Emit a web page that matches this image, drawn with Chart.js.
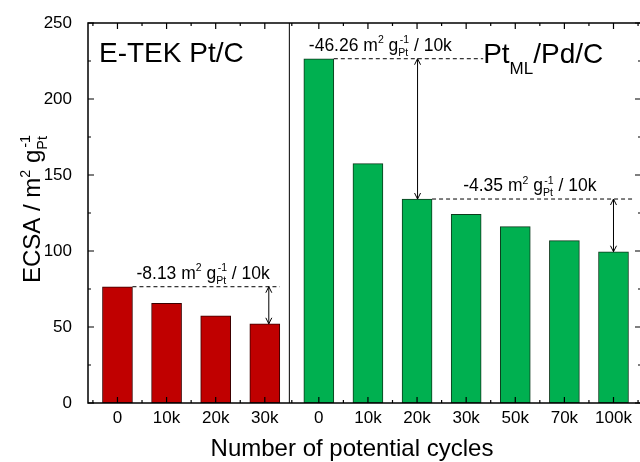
<!DOCTYPE html>
<html><head><meta charset="utf-8">
<script src="https://cdn.jsdelivr.net/npm/chart.js@4"></script>
<style>html,body{margin:0;padding:0;overflow:hidden;background:#fff}#wrap{width:645px;height:462px;position:relative}</style>
</head><body><div id="wrap"><canvas id="c"></canvas></div>
<script>
// ---- data ----
const etekLabels = ['0', '10k', '20k', '30k'];
const etekValues = [76.5, 65.6, 57.4, 52.1];
const ptmlLabels = ['0', '10k', '20k', '30k', '50k', '70k', '100k'];
const ptmlValues = [226.5, 157.5, 134.2, 124.1, 116.0, 106.8, 99.5];
const yTickValues = [0, 50, 100, 150, 200, 250];
const lossRates = ['-8.13', '-46.26', '-4.35'];
const etekName = 'E-TEK Pt/C';
const ptmlName = ['Pt', 'ML', '/Pd/C'];
const xTitle = 'Number of potential cycles';

// ---- layout helpers (not data) ----
const FONT = "'Liberation Sans', Arial, sans-serif";
const GROUP_GAP = 4.1;
const etekPos = etekLabels.map((_, i) => i);
const ptmlPos = ptmlLabels.map((_, i) => GROUP_GAP + i);
const allPos = etekPos.concat(ptmlPos);
const allLabels = etekLabels.concat(ptmlLabels);
const HALF_BAR = 15;

function rich(ctx, x, yb, parts, size, draw) {
  let cx = x;
  for (const p of parts) {
    if (typeof p === 'string') {
      ctx.font = size + 'px ' + FONT;
      if (draw) ctx.fillText(p, cx, yb);
      cx += ctx.measureText(p).width;
    } else {
      const s = size * 0.6;
      ctx.font = s + 'px ' + FONT;
      let w = 0;
      if (p.sub) { if (draw) ctx.fillText(p.sub, cx, yb + size * 0.28); w = Math.max(w, ctx.measureText(p.sub).width); }
      if (p.sup) { const off = p.sub ? size * 0.08 : 0; if (draw) ctx.fillText(p.sup, cx + off, yb - size * 0.42); w = Math.max(w, off + ctx.measureText(p.sup).width); }
      cx += w;
    }
  }
  return cx - x;
}
const unitParts = [' m', {sup: '2'}, ' g', {sub: 'Pt', sup: '-1'}, ' / 10k'];

const decor = {
  id: 'decor',
  afterDraw(chart) {
    const {ctx, chartArea: {left, right, top, bottom}, scales: {x, y}} = chart;
    ctx.save();
    ctx.strokeStyle = '#000';
    ctx.fillStyle = '#000';
    // frame
    ctx.lineWidth = 1.5;
    ctx.strokeRect(left, top, right - left, bottom - top);
    // y ticks (inward, both sides)
    ctx.lineWidth = 1.2;
    ctx.beginPath();
    for (let v = 0; v <= 250; v += 25) {
      const py = y.getPixelForValue(v);
      const len = v % 50 === 0 ? 6 : 3;
      ctx.moveTo(left, py); ctx.lineTo(left + len, py);
      ctx.moveTo(right, py); ctx.lineTo(right - len, py);
    }
    // x ticks (inward, top & bottom)
    const mids = [allPos[0] - 0.5];
    for (let i = 0; i < allPos.length - 1; i++) mids.push((allPos[i] + allPos[i + 1]) / 2);
    mids.push(allPos[allPos.length - 1] + 0.5);
    allPos.forEach(v => { const px = x.getPixelForValue(v); ctx.moveTo(px, bottom); ctx.lineTo(px, bottom - 6); ctx.moveTo(px, top); ctx.lineTo(px, top + 6); });
    mids.forEach(v => { const px = x.getPixelForValue(v); ctx.moveTo(px, bottom); ctx.lineTo(px, bottom - 3); ctx.moveTo(px, top); ctx.lineTo(px, top + 3); });
    ctx.stroke();
    // divider
    ctx.lineWidth = 1;
    const dx = x.getPixelForValue(etekPos[etekPos.length - 1] + 0.5);
    ctx.beginPath(); ctx.moveTo(dx, top); ctx.lineTo(dx, bottom); ctx.stroke();

    function dashed(x1, x2, yy) {
      ctx.save(); ctx.setLineDash([4, 3]); ctx.lineWidth = 1;
      ctx.beginPath(); ctx.moveTo(x1, yy); ctx.lineTo(x2, yy); ctx.stroke(); ctx.restore();
    }
    function arrow(ax, y1, y2) {
      ctx.save(); ctx.lineWidth = 1;
      ctx.beginPath(); ctx.moveTo(ax, y1); ctx.lineTo(ax, y2);
      ctx.moveTo(ax - 3, y1 + 6); ctx.lineTo(ax, y1); ctx.lineTo(ax + 3, y1 + 6);
      ctx.moveTo(ax - 3, y2 - 6); ctx.lineTo(ax, y2); ctx.lineTo(ax + 3, y2 - 6);
      ctx.stroke(); ctx.restore();
    }
    ctx.textBaseline = 'alphabetic';
    ctx.textAlign = 'left';
    // E-TEK annotation
    let yA = y.getPixelForValue(etekValues[0]);
    let yB = y.getPixelForValue(etekValues[3]);
    dashed(x.getPixelForValue(etekPos[0]) + HALF_BAR, x.getPixelForValue(etekPos[3]) + HALF_BAR, yA);
    arrow(x.getPixelForValue(etekPos[3]) + 4, yA, yB);
    rich(ctx, x.getPixelForValue(etekPos[0]) + HALF_BAR + 4, yA - 8, [lossRates[0]].concat(unitParts), 17.5, true);
    // PtML first annotation
    yA = y.getPixelForValue(ptmlValues[0]);
    yB = y.getPixelForValue(ptmlValues[2]);
    const nameX = x.getPixelForValue(ptmlPos[3]) + 17;
    dashed(x.getPixelForValue(ptmlPos[0]) + HALF_BAR, nameX, yA);
    arrow(x.getPixelForValue(ptmlPos[2]) + 0.5, yA, yB);
    rich(ctx, x.getPixelForValue(ptmlPos[0]) - 10, yA - 8, [lossRates[1]].concat(unitParts), 17.5, true);
    // PtML second annotation
    yA = y.getPixelForValue(ptmlValues[2]);
    yB = y.getPixelForValue(ptmlValues[6]);
    dashed(x.getPixelForValue(ptmlPos[2]) + HALF_BAR, x.getPixelForValue(ptmlPos[6]) + 19, yA);
    arrow(x.getPixelForValue(ptmlPos[6]), yA, yB);
    rich(ctx, x.getPixelForValue(ptmlPos[3]) - 3, yA - 8, [lossRates[2]].concat(unitParts), 17.5, true);

    // group names
    ctx.font = '28px ' + FONT;
    ctx.fillText(etekName, left + 11, top + 39);
    let cx = nameX;
    ctx.fillText(ptmlName[0], cx, top + 40); cx += ctx.measureText(ptmlName[0]).width;
    ctx.font = '17px ' + FONT;
    ctx.fillText(ptmlName[1], cx, top + 51); cx += ctx.measureText(ptmlName[1]).width;
    ctx.font = '28px ' + FONT;
    ctx.fillText(ptmlName[2], cx, top + 40);

    // axis titles
    ctx.textAlign = 'center';
    ctx.font = '24px ' + FONT;
    ctx.fillText(xTitle, (left + 616) / 2, 456);
    ctx.textAlign = 'left';
    ctx.save();
    ctx.translate(40, 283);
    ctx.rotate(-Math.PI / 2);
    rich(ctx, 0, 0, ['ECSA / m', {sup: '2'}, ' g', {sub: 'Pt', sup: '-1'}], 24, true);
    ctx.restore();
    ctx.restore();
  }
};

new Chart(document.getElementById('c'), {
  type: 'bar',
  data: {
    datasets: [
      {data: etekPos.map((p, i) => ({x: p, y: etekValues[i]})), backgroundColor: '#C00000', borderColor: '#3a0000', borderWidth: 1, borderSkipped: false, barThickness: 30, grouped: false},
      {data: ptmlPos.map((p, i) => ({x: p, y: ptmlValues[i]})), backgroundColor: '#00B050', borderColor: '#0d3a1c', borderWidth: 1, borderSkipped: false, barThickness: 30, grouped: false}
    ]
  },
  options: {
    responsive: true, maintainAspectRatio: false, animation: false,
    layout: {padding: {top: 23, right: 4, left: 0, bottom: 0}},
    plugins: {legend: {display: false}, tooltip: {enabled: false}},
    scales: {
      x: {
        type: 'linear', min: -0.6, max: 10.66, offset: false,
        grid: {display: false}, border: {display: false},
        afterBuildTicks: s => { s.ticks = allPos.map(v => ({value: v})); },
        ticks: {autoSkip: false, maxRotation: 0, minRotation: 0, padding: -3, color: '#000', font: {family: FONT, size: 17},
          callback: (v, i) => allLabels[i]},
        afterFit: s => { s.height = 59; }
      },
      y: {
        min: 0, max: 250,
        grid: {display: false}, border: {display: false},
        afterBuildTicks: s => { s.ticks = yTickValues.map(v => ({value: v})); },
        ticks: {padding: 8, color: '#000', font: {family: FONT, size: 17}},
        afterFit: s => { s.width = 88; }
      }
    }
  },
  plugins: [decor]
});
</script>
</body></html>
